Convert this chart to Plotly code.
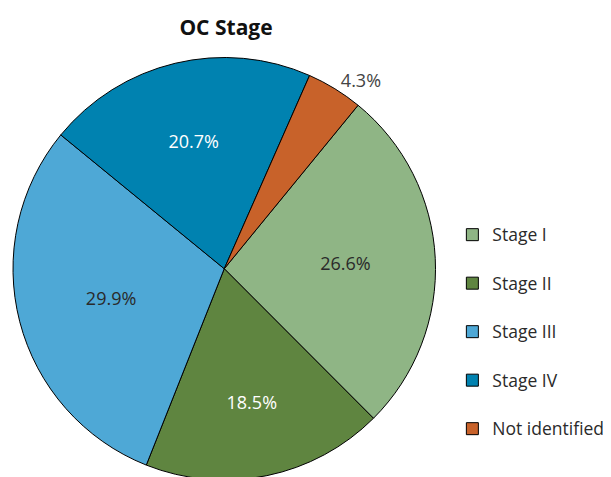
import plotly.graph_objects as go

categories = ["Stage I", "Stage II", "Stage III", "Stage IV", "Not identified"]
values = [26.6, 18.5, 29.9, 20.7, 4.3]
colors = ["#8fb585", "#5f8540", "#4ea8d6", "#0082b0", "#c8622a"]
text_colors = ["#2a2a2a", "#ffffff", "#2a2a2a", "#ffffff", "#444444"]
positions = ["inside", "inside", "inside", "inside", "outside"]
title = "OC Stage"

FONT = "'Open Sans', 'Noto Sans', sans-serif"
W, H = 611, 477

fig = go.Figure(go.Pie(
    labels=[c + "<br> " for c in categories],
    values=values,
    sort=False,
    direction="clockwise",
    rotation=39.3,
    marker=dict(colors=colors, line=dict(color="#000000", width=1)),
    texttemplate="%{value:.1f}%",
    textposition=positions,
    textfont=dict(family=FONT, size=18, color=text_colors),
    insidetextorientation="horizontal",
    hovertemplate="%{value:.1f}%<extra></extra>",
    domain=dict(x=[0 / W, 426 / W], y=[0, 1 - 50 / H]),
))

fig.update_layout(
    width=W, height=H,
    margin=dict(l=0, r=0, t=0, b=0),
    paper_bgcolor="white",
    plot_bgcolor="white",
    font=dict(family=FONT, color="#2a2a2a"),
    title=dict(text="<b>" + title + "</b>", x=218 / W, xanchor="center",
               y=1 - 20 / H, yanchor="middle",
               font=dict(family=FONT, size=21, color="#111111")),
    legend=dict(x=443 / W, xanchor="left", y=1 - 211 / H, yanchor="top",
                font=dict(family=FONT, size=17.5, color="#2a2a2a"),
                valign="top", bgcolor="rgba(0,0,0,0)"),
    showlegend=True,
)

fig.write_html("out.html")
